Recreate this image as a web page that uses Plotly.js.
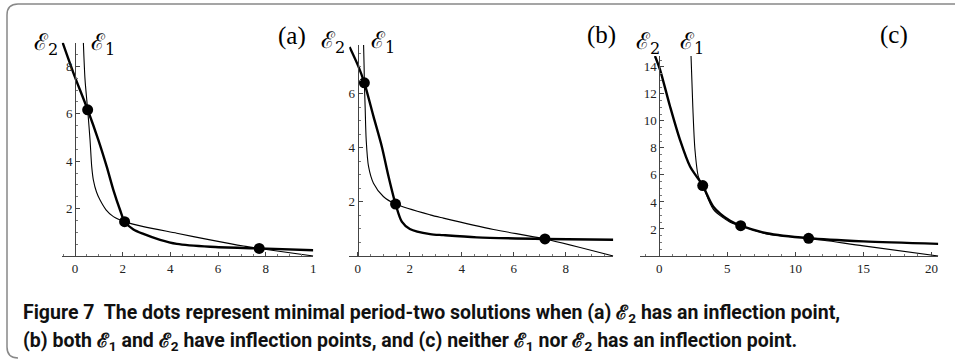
<!DOCTYPE html>
<html>
<head>
<meta charset="utf-8">
<script src="https://cdn.plot.ly/plotly-3.0.1.min.js"></script>
<style>
  html, body { margin: 0; padding: 0; background: #fff; }
  #fig { width: 955px; height: 361px; }
</style>
</head>
<body>
<div id="fig"></div>
<script>
// Panel (a): E2 has an inflection point
const aE2x = [-0.52, -0.07, 0.53, 0.98, 1.33, 1.61, 1.89, 2.08, 2.45, 2.87, 3.57, 4.27, 5.67, 7.73, 10.0];
const aE2y = [9.0, 7.73, 6.17, 4.89, 3.77, 2.78, 1.94, 1.45, 1.12, 0.93, 0.68, 0.51, 0.39, 0.32, 0.24];
const aE1x = [0.35, 0.42, 0.53, 0.63, 0.70, 0.77, 0.90, 1.05, 1.30, 1.61, 2.08, 2.87, 4.27, 5.67, 7.07, 7.73, 10.0];
const aE1y = [9.0, 7.43, 6.17, 4.89, 3.77, 3.2, 2.7, 2.36, 1.95, 1.66, 1.45, 1.24, 0.96, 0.68, 0.42, 0.32, 0.0];
const aDotX = [0.53, 2.08, 7.73];
const aDotY = [6.17, 1.45, 0.32];

// Panel (b): both E1 and E2 have inflection points
const bE2x = [-0.32, 0.02, 0.25, 0.6, 0.92, 1.18, 1.45, 1.69, 2.0, 2.78, 3.29, 4.58, 7.2, 9.83];
const bE2y = [7.73, 7.01, 6.4, 5.16, 4.05, 2.94, 1.92, 1.27, 1.0, 0.81, 0.77, 0.69, 0.63, 0.6];
const bE1x = [0.22, 0.24, 0.25, 0.28, 0.32, 0.41, 0.6, 0.98, 1.45, 2.78, 3.29, 5.22, 7.2, 9.83];
const bE1y = [7.8, 7.0, 6.4, 5.5, 4.3, 3.31, 2.69, 2.2, 1.92, 1.52, 1.40, 0.98, 0.63, 0.0];
const bDotX = [0.25, 1.45, 7.2];
const bDotY = [6.4, 1.92, 0.63];

// Panel (c): neither curve has an inflection point
const cE2x = [-0.32, 0.05, 0.79, 1.52, 2.26, 3.19, 3.97, 5.2, 5.98, 7.9, 10.97, 15, 20.5];
const cE2y = [14.8, 13.8, 11.06, 8.59, 6.62, 5.21, 3.65, 2.6, 2.24, 1.68, 1.31, 1.08, 0.9];
const cE1x = [2.33, 2.46, 2.62, 2.87, 3.19, 3.97, 5.2, 5.98, 7.9, 10.97, 15, 20.5];
const cE1y = [14.8, 11.06, 7.85, 5.87, 5.21, 3.45, 2.5, 2.24, 1.64, 1.31, 0.75, 0.0];
const cDotX = [3.19, 5.98, 10.97];
const cDotY = [5.21, 2.24, 1.31];

// Tick labels
const aXticks = [0, 2, 4, 6, 8, 10];
const aXlabels = ['0', '2', '4', '6', '8', '1'];
const aYticks = [2, 4, 6, 8];
const bXticks = [0, 2, 4, 6, 8];
const bYticks = [2, 4, 6];
const cXticks = [0, 5, 10, 15, 20];
const cYticks = [2, 4, 6, 8, 10, 12, 14];

const W = 955, H = 361;
const px = v => v / W;
const py = v => 1 - v / H;

const serif = 'Liberation Serif';
const tickColor = '#222';

function curve(x, y, xa, ya, width) {
  return { x, y, xaxis: xa, yaxis: ya, type: 'scatter', mode: 'lines',
           line: { color: '#000', width, shape: 'spline', smoothing: 0.8 },
           hoverinfo: 'skip' };
}
function dots(x, y, xa, ya) {
  return { x, y, xaxis: xa, yaxis: ya, type: 'scatter', mode: 'markers',
           marker: { color: '#000', size: 11 }, hoverinfo: 'skip', cliponaxis: false };
}

const data = [
  curve(aE1x, aE1y, 'x', 'y', 1.1), curve(aE2x, aE2y, 'x', 'y', 2.4), dots(aDotX, aDotY, 'x', 'y'),
  curve(bE1x, bE1y, 'x2', 'y2', 1.1), curve(bE2x, bE2y, 'x2', 'y2', 2.4), dots(bDotX, bDotY, 'x2', 'y2'),
  curve(cE1x, cE1y, 'x3', 'y3', 1.1), curve(cE2x, cE2y, 'x3', 'y3', 2.4), dots(cDotX, cDotY, 'x3', 'y3')
];

function xAxis(domainPx, range, tickvals, ticktext, minorStep, anchor) {
  return {
    domain: [px(domainPx[0]), px(domainPx[1])], range, anchor,
    showline: true, linecolor: '#444', linewidth: 1, zeroline: false, showgrid: false,
    tickmode: 'array', tickvals, ticktext: ticktext || tickvals.map(String),
    ticks: 'inside', ticklen: 4, tickcolor: '#444',
    tickfont: { family: serif, size: 13, color: tickColor },
    minor: { tickmode: 'linear', tick0: 0, dtick: minorStep, ticks: 'inside', ticklen: 2, tickcolor: '#777' },
    fixedrange: true
  };
}
function yAxis(domainPx, range, tickvals, minorStep, zeroPx) {
  return {
    domain: [py(domainPx[1]), py(domainPx[0])], range, anchor: 'free', position: px(zeroPx),
    showline: true, linecolor: '#444', linewidth: 1, zeroline: false, showgrid: false,
    tickmode: 'array', tickvals, ticks: 'inside', ticklen: 4, tickcolor: '#444',
    tickfont: { family: serif, size: 13, color: tickColor },
    minor: { tickmode: 'linear', tick0: 0, dtick: minorStep, ticks: 'inside', ticklen: 2, tickcolor: '#777' },
    fixedrange: true
  };
}

function lab(text, x, y, size, family) {
  return { text, x: px(x), y: py(y), xref: 'paper', yref: 'paper', showarrow: false,
           xanchor: 'center', yanchor: 'middle',
           font: { family: family || serif, size, color: '#000' } };
}

const capFont = { family: 'Roboto', size: 19.5, color: '#111', weight: 700 };
const scriptFamily = 'DejaVu Serif';

const layout = {
  width: W, height: H,
  margin: { l: 0, r: 0, t: 0, b: 0 },
  font: { family: serif, size: 13, color: tickColor },
  paper_bgcolor: '#fff', plot_bgcolor: 'rgba(0,0,0,0)',
  showlegend: false,
  xaxis: xAxis([61.7, 313.3], [-0.56, 10.0], aXticks, aXlabels, 0.5, 'y'),
  yaxis: yAxis([42.7, 256], [0, 9.0], aYticks, 0.5, 75),
  xaxis2: xAxis([349.3, 613.3], [-0.33, 9.83], bXticks, null, 0.5, 'y2'),
  yaxis2: yAxis([45, 256], [0, 7.8], bYticks, 0.5, 357.7),
  xaxis3: xAxis([640, 938.3], [-1.42, 20.5], cXticks, null, 1, 'y3'),
  yaxis3: yAxis([56, 256], [0, 14.8], cYticks, 0.5, 659.3),
  annotations: [
    lab('ℰ<sub>2</sub>', 46, 44, 23, scriptFamily), lab('ℰ<sub>1</sub>', 103, 44, 23, scriptFamily), lab('(a)', 292, 36, 25),
    lab('ℰ<sub>2</sub>', 333, 42, 23, scriptFamily), lab('ℰ<sub>1</sub>', 383, 42, 23, scriptFamily), lab('(b)', 601, 35, 25),
    lab('ℰ<sub>2</sub>', 648, 43, 23, scriptFamily), lab('ℰ<sub>1</sub>', 692, 43, 23, scriptFamily), lab('(c)', 894, 35, 25),
    { text: 'Figure 7  The dots represent minimal period-two solutions when (a) ℰ<sub>2</sub> has an inflection point,',
      x: px(21), y: py(313), xref: 'paper', yref: 'paper', xanchor: 'left', yanchor: 'middle',
      showarrow: false, font: capFont },
    { text: '(b) both ℰ<sub>1</sub> and ℰ<sub>2</sub> have inflection points, and (c) neither ℰ<sub>1</sub> nor ℰ<sub>2</sub> has an inflection point.',
      x: px(21), y: py(341), xref: 'paper', yref: 'paper', xanchor: 'left', yanchor: 'middle',
      showarrow: false, font: capFont }
  ],
  shapes: [
    { type: 'path', xref: 'paper', yref: 'paper',
      path: `M ${px(970)} ${py(4)} L ${px(18)} ${py(4)} Q ${px(7)} ${py(4)} ${px(7)} ${py(15)} ` +
            `L ${px(7)} ${py(347)} Q ${px(7)} ${py(358)} ${px(18)} ${py(358)}`,
      line: { color: '#888', width: 1.5 } }
  ]
};

Plotly.newPlot('fig', data, layout, { staticPlot: true, displayModeBar: false });
</script>
</body>
</html>
